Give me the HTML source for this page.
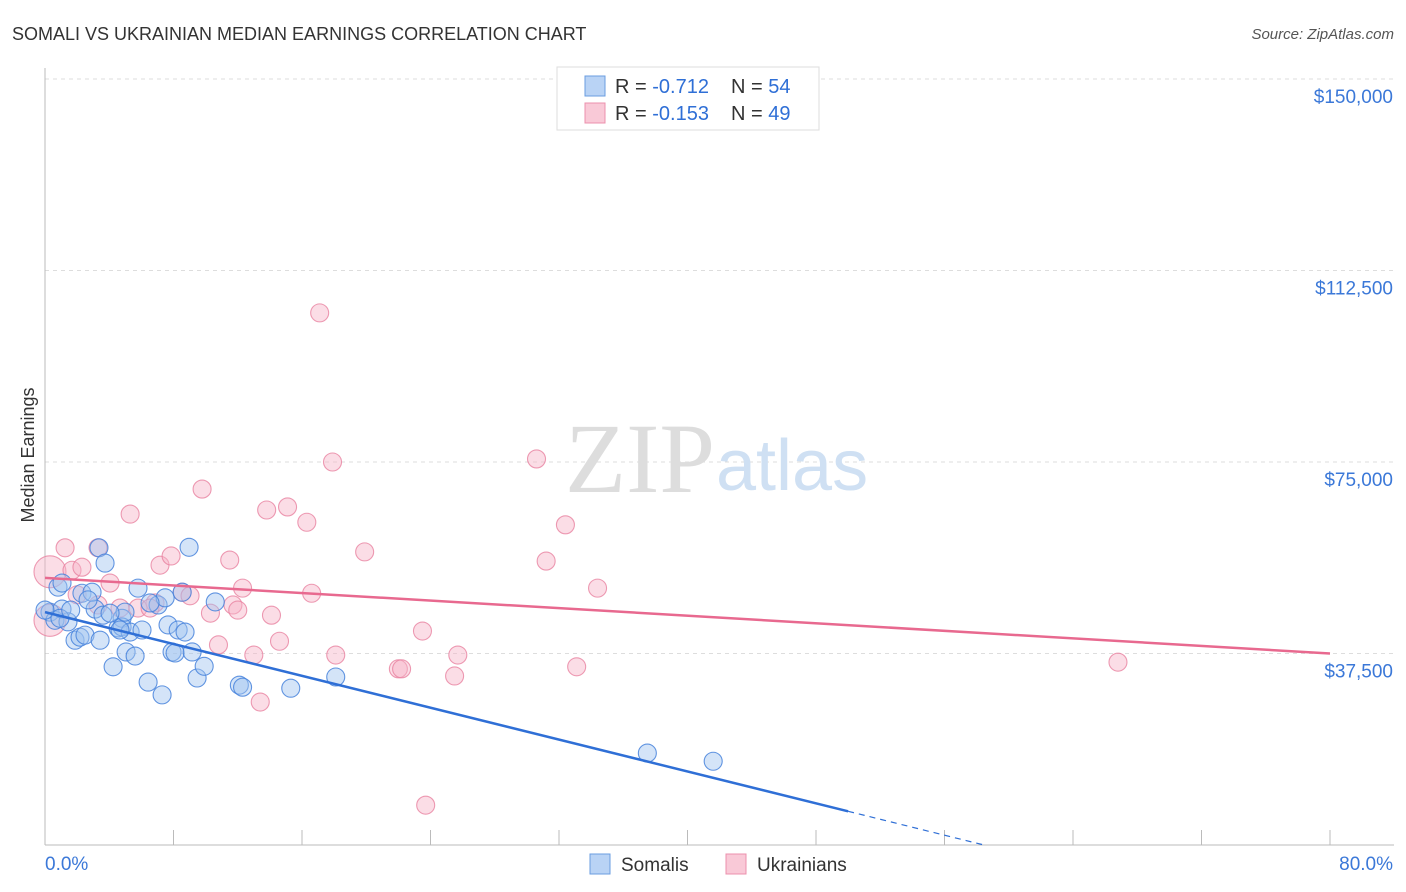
<!DOCTYPE html>
<html><head><meta charset="utf-8"><style>
body{margin:0;background:#fff;font-family:"Liberation Sans",sans-serif}
svg{display:block}
</style></head><body>
<svg width="1406" height="892">
<text x="12" y="40" font-size="18" fill="#333">SOMALI VS UKRAINIAN MEDIAN EARNINGS CORRELATION CHART</text>
<text x="1394" y="39" font-size="15" fill="#555" font-style="italic" text-anchor="end">Source: ZipAtlas.com</text>
<g id="grid"></g>
<text x="715" y="492" font-size="100" font-family="Liberation Serif,serif" fill="#ddd" text-anchor="end">ZIP</text>
<text x="716" y="490" font-size="72" fill="#cfe0f3">atlas</text>
<g id="pts"></g>
<g id="lines"></g>
<text transform="translate(34,455) rotate(-90)" font-size="18" fill="#333" text-anchor="middle">Median Earnings</text>
<g>
<rect x="557" y="67" width="262" height="63" fill="#fff" stroke="#ddd"/>
<rect x="585" y="76" width="20" height="20" fill="#b9d3f5" stroke="#6a9de0"/>
<rect x="585" y="103" width="20" height="20" fill="#f9c9d7" stroke="#ec90ac"/>
<text x="615" y="93" font-size="20" fill="#333">R = <tspan fill="#2f6fd6">-0.712</tspan></text>
<text x="731" y="93" font-size="20" fill="#333">N = <tspan fill="#2f6fd6">54</tspan></text>
<text x="615" y="120" font-size="20" fill="#333">R = <tspan fill="#2f6fd6">-0.153</tspan></text>
<text x="731" y="120" font-size="20" fill="#333">N = <tspan fill="#2f6fd6">49</tspan></text>
</g>
<g>
<rect x="590" y="854" width="20" height="20" fill="#b9d3f5" stroke="#6a9de0"/>
<text x="621" y="871" font-size="19" fill="#333">Somalis</text>
<rect x="726" y="854" width="20" height="20" fill="#f9c9d7" stroke="#ec90ac"/>
<text x="757" y="871" font-size="19" fill="#333">Ukrainians</text>
</g>
</svg>
<script>
const yTicks=[37500,75000,112500,150000];
const yTickLabels=["$37,500","$75,000","$112,500","$150,000"];
const xLabels=["0.0%","80.0%"];
const somaliX=[0.31,0.62,1.06,1.43,0.81,1.06,1.87,2.18,2.49,2.30,3.12,2.93,3.36,3.61,3.74,4.24,4.55,4.80,4.80,5.05,5.30,5.61,5.79,6.04,6.42,7.04,7.29,7.48,7.66,7.91,8.10,8.29,8.54,8.72,8.97,9.16,9.47,9.91,10.6,12.1,12.3,15.3,18.1,37.5,41.6,4.98,4.05,6.54,0,2.68,0.93,4.67,3.43,1.6];
const somaliY=[45600,44000,46200,43700,50500,51300,40100,40700,41100,49300,46200,49500,58200,45000,55200,34900,42500,44400,42700,37800,41700,37000,50300,42100,31900,47000,29400,48400,43100,37800,37600,42100,49500,41700,58300,37800,32700,35000,47600,31300,30900,30700,32900,18000,16400,45600,45400,47400,46000,48000,44400,42100,40100,46000];
const ukrX=[1.25,0.31,1.68,2.30,4.05,5.30,3.30,4.67,5.79,7.16,7.85,8.54,9.78,10.3,10.8,11.5,11.7,12.3,13.0,13.4,13.8,14.1,14.6,15.1,16.3,16.6,17.1,17.9,18.1,19.9,22.0,22.2,23.5,23.7,25.5,25.7,30.6,31.2,32.4,33.1,34.4,66.8,0.31,6.85,9.03,6.54,3.30,12.0,2.0];
const ukrY=[58200,53500,53800,54400,51300,64800,58200,46400,46400,54800,56600,49500,69700,45400,39200,55800,47000,50300,37200,28000,65600,45000,39900,66200,63200,49300,104200,75000,37200,57400,34500,34500,41900,7800,33100,37200,75600,55600,62700,34900,50300,35800,44000,47400,48800,46400,47000,46000,49000];
const ukrSize=[9,16,9,9,9,9,9,9,9,9,9,9,9,9,9,9,9,9,9,9,9,9,9,9,9,9,9,9,9,9,9,9,9,9,9,9,9,9,9,9,9,9,16,9,9,9,9,9,9];
const somaliFit=[45600,-780];
const ukrFit=[52300,-185];
const NS="http://www.w3.org/2000/svg";
const X=v=>45+v/80*1285, Y=v=>845-v/150000*766;
function mk(t,a,p){const e=document.createElementNS(NS,t);for(const k in a)e.setAttribute(k,a[k]);p.appendChild(e);return e;}
const grid=document.getElementById('grid');
yTicks.forEach((t,i)=>{
 const l=mk('line',{x1:45,x2:1394,y1:Y(t),y2:Y(t),stroke:'#ddd','stroke-dasharray':'4,4'},grid);
 
 
 const tx=mk('text',{x:1393,y:Y(t)+24,'font-size':19,fill:'#3b78d8','text-anchor':'end'},grid);
 tx.textContent=yTickLabels[i];
 
 
});
mk('line',{x1:45,x2:45,y1:68,y2:845,stroke:'#bbb'},grid);
mk('line',{x1:45,x2:1394,y1:845,y2:845,stroke:'#bbb'},grid);
for(let i=1;i<=10;i++){mk('line',{x1:45+i*128.5,x2:45+i*128.5,y1:830,y2:845,stroke:'#bbb'},grid);}
xLabels.forEach((s,i)=>{const tx=mk('text',{x:i?1393:45,y:870,'font-size':19,fill:'#3b78d8','text-anchor':i?'end':'start'},grid);tx.textContent=s;
 
 });
const pts=document.getElementById('pts');
ukrX.forEach((x,i)=>{const c=mk('circle',{cx:X(x),cy:Y(ukrY[i]),r:ukrSize[i],fill:'rgba(247,180,200,0.45)',stroke:'rgba(232,130,160,0.8)','stroke-width':1.1},pts);
 
 });
somaliX.forEach((x,i)=>{const c=mk('circle',{cx:X(x),cy:Y(somaliY[i]),r:9,fill:'rgba(160,195,240,0.45)',stroke:'rgba(70,130,220,0.85)','stroke-width':1.1},pts);
 
 });
const ln=document.getElementById('lines');
const f=(p,x)=>p[0]+p[1]*x;
let a=mk('line',{x1:X(0),y1:Y(f(somaliFit,0)),x2:X(50),y2:Y(f(somaliFit,50)),stroke:'#2f6fd6','stroke-width':2.5},ln);


const z=-somaliFit[0]/somaliFit[1];
let b=mk('line',{x1:X(50),y1:Y(f(somaliFit,50)),x2:X(z),y2:Y(0),stroke:'#2f6fd6','stroke-width':1.2,'stroke-dasharray':'6,5'},ln);


let c=mk('line',{x1:X(0),y1:Y(f(ukrFit,0)),x2:X(80),y2:Y(f(ukrFit,80)),stroke:'#e8698f','stroke-width':2.5},ln);


</script>
</body></html>
